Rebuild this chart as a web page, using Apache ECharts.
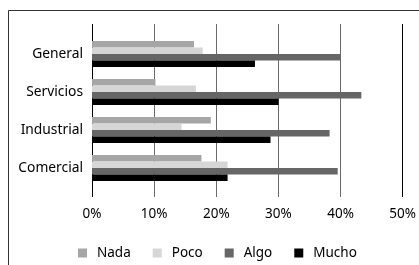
<!DOCTYPE html>
<html>
<head>
<meta charset="utf-8">
<script src="https://cdn.jsdelivr.net/npm/echarts@6/dist/echarts.min.js"></script>
<style>
  html, body { margin: 0; padding: 0; background: #fff; }
  #chart { width: 419px; height: 265px; }
</style>
</head>
<body>
<div id="chart"></div>
<script>
// categorias y valores (%)
var categories = ['General', 'Servicios', 'Industrial', 'Comercial'];
var nada = [16.4, 10.2, 19.1, 17.6];
var poco = [17.8, 16.7, 14.4, 21.8];
var algo = [40.0, 43.3, 38.2, 39.5];
var mucho = [26.2, 30.0, 28.7, 21.8];
var ticks = [0, 10, 20, 30, 40, 50];

var font = 'Noto Sans';
var chart = echarts.init(document.getElementById('chart'));

function serie(name, data, color) {
    return {
        name: name,
        type: 'bar',
        data: data,
        xAxisIndex: 0,
        yAxisIndex: 0,
        barGap: '0%',
        barCategoryGap: '31.6%',
        itemStyle: { color: color },
        animation: false
    };
}

var option = {
    animation: false,
    graphic: [{
        type: 'rect',
        shape: { x: 8.5, y: 10.5, width: 420, height: 270 },
        style: { fill: 'none', stroke: '#333', lineWidth: 1 },
        silent: true
    }],
    grid: [
        { left: 92, width: 311, top: 35, height: 152 },
        { left: 92, width: 311, top: 24, height: 173 }
    ],
    xAxis: [{
        gridIndex: 0,
        type: 'value',
        min: ticks[0],
        max: ticks[ticks.length - 1],
        interval: 10,
        show: false
    }, {
        gridIndex: 1,
        type: 'value',
        min: ticks[0],
        max: ticks[ticks.length - 1],
        interval: 10,
        axisLine: { show: false },
        axisTick: { show: false },
        axisLabel: {
            formatter: '{value}%',
            margin: 10,
            color: '#000',
            fontFamily: font,
            fontSize: 13.5
        },
        splitLine: {
            show: true,
            lineStyle: { color: ['#000', '#6a6a6a', '#6a6a6a', '#6a6a6a', '#6a6a6a', '#000'], width: 1 }
        }
    }],
    yAxis: [{
        gridIndex: 0,
        type: 'category',
        data: categories,
        inverse: true,
        axisLine: { show: false },
        axisTick: { show: false },
        axisLabel: {
            margin: 9,
            color: '#000',
            fontFamily: font,
            fontSize: 13.8
        }
    }, {
        gridIndex: 1,
        type: 'value',
        show: false
    }],
    legend: {
        left: 73,
        top: 241,
        itemWidth: 9,
        itemHeight: 9,
        itemGap: 22,
        icon: 'rect',
        textStyle: { color: '#000', fontFamily: font, fontSize: 13.5, padding: [0, 0, 0, 5] },
        data: ['Nada', 'Poco', 'Algo', 'Mucho']
    },
    series: [
        serie('Nada', nada, '#a6a6a6'),
        serie('Poco', poco, '#d6d6d6'),
        serie('Algo', algo, '#666666'),
        serie('Mucho', mucho, '#000000')
    ]
};

chart.setOption(option);
</script>
</body>
</html>
